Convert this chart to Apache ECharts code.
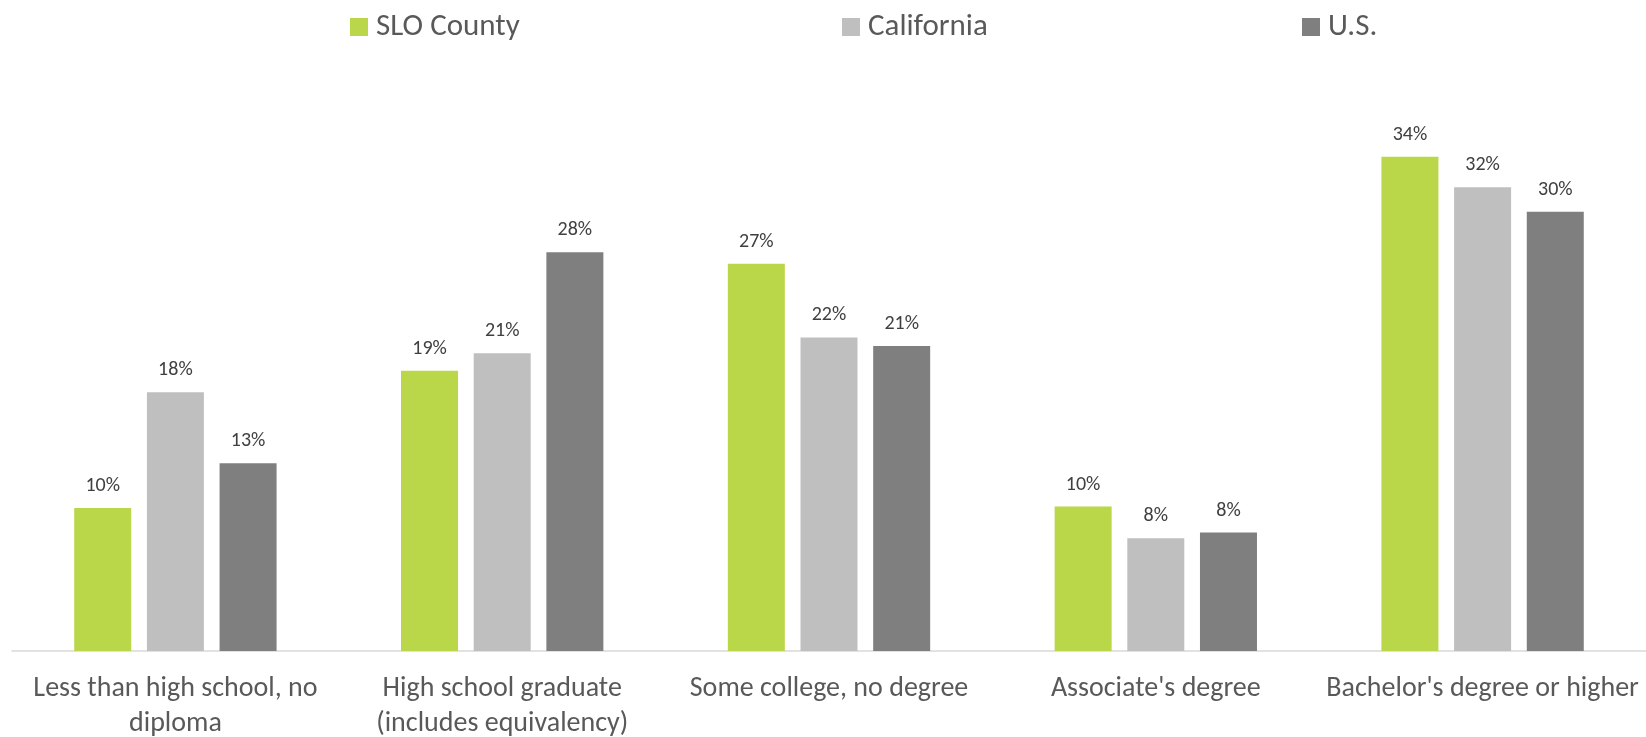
<!DOCTYPE html>
<html>
<head>
<meta charset="utf-8">
<script src="https://cdn.jsdelivr.net/npm/echarts@6/dist/echarts.min.js"></script>
<style>
html,body{margin:0;padding:0;background:#fff;}
#chart{width:1646px;height:737px;}
</style>
</head>
<body>
<div id="chart"></div>
<script>
const categories = [
  "Less than high school, no\ndiploma",
  "High school graduate\n(includes equivalency)",
  "Some college, no degree",
  "Associate's degree",
  "Bachelor's degree or higher"
];
const seriesNames = ["SLO County", "California", "U.S."];
const sloCounty = [9.9, 19.4, 26.8, 10.0, 34.2];
const california = [17.9, 20.6, 21.7, 7.8, 32.1];
const us = [13.0, 27.6, 21.1, 8.2, 30.4];
const colors = ["#BAD649", "#BFBFBF", "#7F7F7F"];

const FONT = "Carlito, Lato, sans-serif";
const chart = echarts.init(document.getElementById('chart'));

const legendLefts = [345, 837, 1297];
const legends = seriesNames.map((n, i) => ({
  data: [n],
  left: legendLefts[i],
  top: 3,
  icon: 'rect',
  itemWidth: 18,
  itemHeight: 18,
  itemGap: 0,
  textStyle: {fontFamily: FONT, fontSize: 31, color: '#595959', lineHeight: 38, padding: [0,0,0,3]}
}));

const values = [sloCounty, california, us];
chart.setOption({
  animation: false,
  color: colors,
  legend: legends,
  grid: {left: 12, right: 0, top: 73, bottom: 86, containLabel: false, outerBoundsMode: 'none'},
  xAxis: {
    type: 'category',
    data: categories,
    axisLine: {lineStyle: {color: '#D9D9D9', width: 1.5}},
    axisTick: {show: false},
    axisLabel: {fontFamily: FONT, fontSize: 28, color: '#595959', margin: 20, lineHeight: 35, interval: 0}
  },
  yAxis: {
    type: 'value', min: 0, max: 40, show: false,
    splitLine: {show: false}
  },
  series: seriesNames.map((n, i) => ({
    name: n,
    type: 'bar',
    data: values[i],
    barWidth: 57,
    barGap: '27.5%',
    itemStyle: {color: colors[i]},
    label: {
      show: true, position: 'top', distance: 12,
      fontFamily: FONT, fontSize: 20, color: '#404040',
      formatter: p => Math.round(p.value) + '%'
    }
  }))
});
</script>
</body>
</html>
